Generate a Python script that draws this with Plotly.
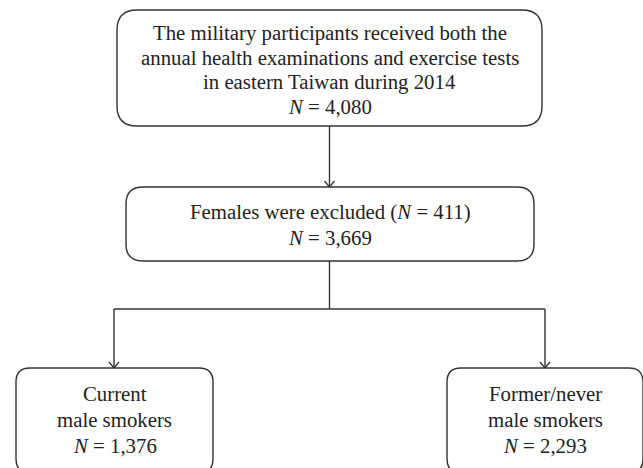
import plotly.graph_objects as go

# ---- data ----
total_n = 4080
females_excluded = 411
male_n = 3669
group_labels = ["Current<br>male smokers", "Former/never<br>male smokers"]
group_n = [1376, 2293]

W, H = 643, 468
LINE = "#333333"
FONT = "Liberation Serif"
FS = 20.8

def fmt(n):
    return f"{n:,}"

def rrect(x0, y0, x1, y1, r):
    return (f"M {x0+r},{y0} L {x1-r},{y0} Q {x1},{y0} {x1},{y0+r} "
            f"L {x1},{y1-r} Q {x1},{y1} {x1-r},{y1} L {x0+r},{y1} "
            f"Q {x0},{y1} {x0},{y1-r} L {x0},{y0+r} Q {x0},{y0} {x0+r},{y0} Z")

shapes = []
annotations = []

def box(x0, y0, x1, y1, r):
    shapes.append(dict(type="path", path=rrect(x0, y0, x1, y1, r), xref="x", yref="y",
                       line=dict(color=LINE, width=1.4), fillcolor="white", layer="above"))

def seg(x0, y0, x1, y1):
    shapes.append(dict(type="line", x0=x0, y0=y0, x1=x1, y1=y1, xref="x", yref="y",
                       line=dict(color=LINE, width=1.4)))

def arrowhead(x, y):
    shapes.append(dict(type="path", path=f"M {x-5},{y-6} L {x},{y} L {x+5},{y-6}",
                       xref="x", yref="y", line=dict(color=LINE, width=1.3)))

def text(x, y, s, size=FS):
    annotations.append(dict(x=x, y=y, xref="x", yref="y", text=s, showarrow=False,
                            font=dict(family=FONT, size=size, color="#222222"),
                            align="center", xanchor="center", yanchor="middle"))

# top box
box(117, 10, 542, 126, 20)
top_lines = ["The military participants received both the",
             "annual health examinations and exercise tests",
             "in eastern Taiwan during 2014",
             f"<i>N</i> = {fmt(total_n)}"]
for i, s in enumerate(top_lines):
    text(329.5, 33 + 24.6 * i, s)

# arrow top -> middle
seg(329.5, 126, 329.5, 187)
arrowhead(329.5, 187)

# middle box
box(126, 187, 534, 261, 17)
text(330, 212, f"Females were excluded (<i>N</i> = {females_excluded})")
text(330, 237.5, f"<i>N</i> = {fmt(male_n)}")

# split
seg(329.5, 261, 329.5, 309)
seg(114, 309, 545, 309)
seg(114, 309, 114, 368)
seg(545, 309, 545, 368)
arrowhead(114, 368)
arrowhead(545, 368)

# bottom boxes
for (x0, x1), lab, n in zip([(16, 213), (447, 643)], group_labels, group_n):
    box(x0, 368, x1, 473, 14)
    cx = (x0 + x1) / 2
    l1, l2 = lab.split("<br>")
    text(cx, 393, l1)
    text(cx, 419.5, l2)
    text(cx, 445, f"<i>N</i> = {fmt(n)}")

fig = go.Figure()
fig.update_layout(
    width=W, height=H, margin=dict(l=0, r=0, t=0, b=0),
    paper_bgcolor="white", plot_bgcolor="white",
    xaxis=dict(range=[0, W], visible=False, fixedrange=True),
    yaxis=dict(range=[H, 0], visible=False, fixedrange=True),
    shapes=shapes, annotations=annotations, showlegend=False,
)
fig.write_html("out.html", config={"displayModeBar": False},
               post_script="document.body.style.margin='0';")
